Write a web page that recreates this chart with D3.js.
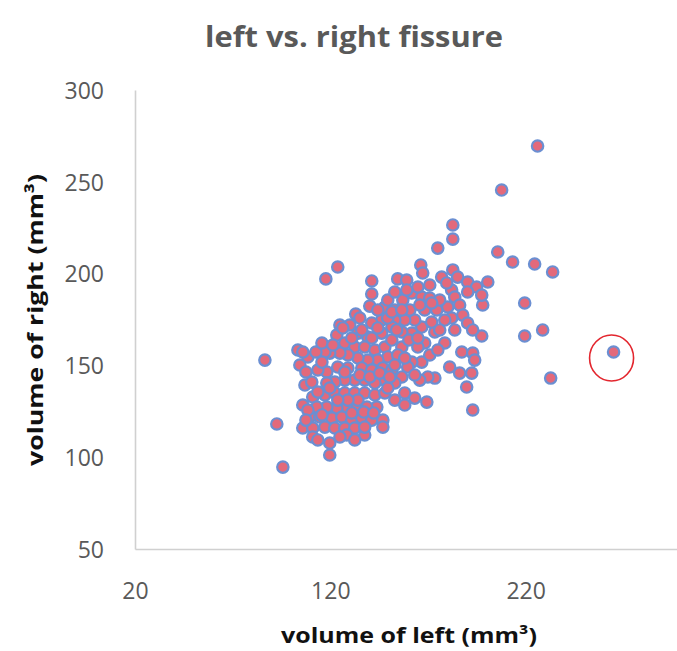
<!DOCTYPE html>
<html>
<head>
<meta charset="utf-8">
<script src="https://cdn.jsdelivr.net/npm/d3@7"></script>
<style>
  html, body { margin: 0; padding: 0; background: #fff; }
  svg { display: block; }
  text { font-family: "Open Sans", "DejaVu Sans", sans-serif; }
</style>
</head>
<body>
<div id="chart"></div>
<script>
// Fissure volumes (mm³): left hemisphere vs. right hemisphere, one pair per subject
const leftVolume = [
  86.5, 92.6, 95.7, 117.7, 123.8, 141.2, 141.2, 133.0, 140.2, 147.9,
  154.5, 159.1, 166.3, 167.3, 175.0, 182.7, 182.7, 205.7, 207.7, 226.1,
  213.3, 224.6, 233.8, 200.6, 198.0, 219.5, 197.5, 219.5, 228.7, 265.0,
  232.8, 177.0, 182.7, 185.2, 190.3, 194.9, 197.5, 190.3, 182.1, 179.6,
  183.7, 180.1, 186.2, 187.8, 182.1, 190.3, 183.7, 192.9, 187.3, 192.9,
  193.9, 181.1, 186.2, 192.4, 189.8, 192.9, 173.5, 169.9, 165.8, 158.1,
  163.2, 169.4, 166.8, 161.7, 159.6, 178.6, 173.5, 168.3, 164.8, 166.8,
  161.7, 156.6, 156.6, 163.2, 158.1, 153.0, 160.7, 157.1, 161.7, 166.8,
  170.9, 168.3, 174.5, 164.8, 159.1, 153.0, 151.5, 146.3, 141.2, 146.3,
  139.2, 134.1, 123.3, 127.4, 132.5, 137.6, 142.8, 147.9, 149.4, 144.3,
  139.2, 134.1, 129.0, 124.9, 119.7, 103.4, 108.5, 118.2, 123.8, 129.0,
  136.1, 141.2, 146.9, 151.5, 156.6, 153.0, 147.9, 142.8, 137.6, 132.5,
  127.4, 122.3, 118.2, 107.0, 111.0, 105.9, 117.2, 122.3, 127.4, 132.5,
  137.6, 142.8, 147.9, 143.8, 138.7, 133.6, 128.4, 123.3, 118.2, 113.1,
  109.5, 114.6, 120.8, 125.9, 131.0, 136.1, 141.2, 146.9, 146.9, 105.9,
  111.0, 111.0, 117.2, 122.3, 127.4, 132.5, 137.6, 128.4, 119.7, 119.7,
  137.6, 117.2, 105.9, 130.0, 135.1, 113.6, 110.5, 115.7, 151.5, 154.5,
  124.9, 149.4, 144.3, 153.0, 170.9, 176.0, 178.6, 170.9, 175.0, 163.2,
  104.4, 107.5, 112.6, 115.7, 121.3, 126.4, 131.0, 136.1, 141.2, 144.3,
  149.4, 154.0, 160.2, 164.8, 171.9, 176.0, 153.0, 158.1, 149.4, 153.0,
  158.1, 134.1, 129.0, 123.8, 115.7, 108.5, 113.6, 119.7, 127.4, 135.1,
  140.2, 145.3, 150.4, 131.0, 137.1, 142.2, 124.9, 132.5, 113.6, 107.5,
  151.5, 156.6, 165.8, 171.9
];
const rightVolume = [
  152.9, 118.1, 94.6, 197.1, 203.6, 196.0, 188.9, 178.0, 182.3, 181.8,
  197.1, 196.5, 204.7, 200.3, 213.9, 226.5, 218.8, 211.8, 245.5, 269.5,
  206.3, 205.2, 200.9, 195.4, 182.9, 184.0, 166.0, 166.0, 169.3, 157.3,
  143.1, 198.1, 202.0, 198.1, 195.4, 192.7, 188.3, 190.0, 191.1, 194.9,
  187.2, 181.8, 182.9, 177.4, 175.8, 173.1, 169.3, 169.3, 157.3, 156.7,
  152.9, 149.1, 145.8, 145.8, 138.2, 125.7, 143.1, 143.7, 142.0, 135.0,
  132.2, 130.0, 151.8, 151.8, 149.1, 162.2, 168.2, 162.2, 160.0, 170.9,
  167.6, 160.0, 168.2, 174.7, 174.7, 174.7, 180.2, 185.6, 189.4, 187.2,
  186.7, 180.2, 180.2, 192.7, 191.1, 180.2, 170.9, 174.7, 173.1, 167.6,
  165.5, 167.6, 166.5, 162.2, 160.0, 160.0, 158.4, 160.0, 154.6, 152.9,
  152.9, 154.0, 155.7, 156.7, 156.7, 158.4, 154.6, 146.4, 149.1, 148.6,
  148.6, 147.5, 148.6, 147.5, 143.7, 140.4, 142.0, 140.4, 142.0, 142.0,
  142.0, 140.9, 140.4, 139.3, 132.8, 128.4, 133.9, 135.0, 135.0, 135.0,
  135.0, 133.9, 135.0, 127.3, 127.3, 127.3, 127.3, 126.8, 127.3, 127.3,
  121.9, 121.9, 121.3, 121.9, 120.2, 121.3, 120.2, 120.2, 116.4, 115.9,
  115.9, 111.0, 116.4, 115.9, 115.9, 115.9, 112.1, 112.1, 107.7, 101.2,
  116.4, 157.3, 157.3, 172.0, 175.8, 147.5, 140.9, 151.8, 163.8, 155.7,
  172.0, 185.6, 180.2, 190.0, 193.8, 185.6, 174.7, 155.7, 158.4, 144.8,
  150.2, 146.4, 157.3, 162.2, 161.1, 170.4, 164.9, 169.3, 164.9, 170.4,
  175.8, 169.3, 163.8, 164.9, 173.6, 169.3, 150.2, 154.0, 137.7, 131.1,
  128.4, 131.1, 131.1, 131.1, 123.0, 125.7, 135.5, 137.7, 146.4, 144.8,
  143.7, 145.8, 143.7, 124.1, 124.6, 124.1, 111.0, 109.4, 109.4, 120.2,
  179.1, 180.2, 182.9, 184.0
];

const xTicks = [20, 120, 220];
const yTicks = [50, 100, 150, 200, 250, 300];

// The subject singled out with a ring
const flaggedLeft = 265.0;
const flaggedRight = 157.3;

const chartTitle = "left vs. right fissure";
const xTitle = "volume of left (mm³)";
const yTitle = "volume of right (mm³)";

const W = 677, H = 651;
const svg = d3.select("#chart").append("svg")
  .attr("width", W).attr("height", H);

const x = d3.scaleLinear().domain([20, 320]).range([135, 721]);
const y = d3.scaleLinear().domain([50, 300]).range([549, 90]);

const axisColor = "#d0d0d0";
const labelColor = "#595959";

// x axis
svg.append("g")
  .attr("transform", `translate(0,${y(50)})`)
  .call(d3.axisBottom(x).tickValues(xTicks).tickSize(0).tickSizeOuter(0).tickPadding(0))
  .call(g => g.select(".domain").attr("stroke", axisColor).attr("stroke-width", 1.6))
  .call(g => g.selectAll("text")
    .attr("y", 50).attr("dy", 0)
    .attr("fill", labelColor)
    .style("font-size", "23px")
    .style("font-family", "'Open Sans', sans-serif"));

// y axis
svg.append("g")
  .attr("transform", `translate(${x(20)},0)`)
  .call(d3.axisLeft(y).tickValues(yTicks).tickSize(0).tickSizeOuter(0).tickPadding(31))
  .call(g => g.select(".domain").attr("stroke", axisColor).attr("stroke-width", 1.6))
  .call(g => g.selectAll("text")
    .attr("dy", "0.36em")
    .attr("fill", labelColor)
    .style("font-size", "23px")
    .style("font-family", "'Open Sans', sans-serif"));

// data points
const points = leftVolume.map((l, i) => ({ l, r: rightVolume[i] }));
svg.append("g")
  .selectAll("circle")
  .data(points)
  .join("circle")
  .attr("cx", d => x(d.l))
  .attr("cy", d => y(d.r))
  .attr("r", 5.7)
  .attr("fill", "#e3697b")
  .attr("stroke", "#6b8fd2")
  .attr("stroke-width", 2.2);

// ring around the flagged subject
svg.append("ellipse")
  .attr("cx", x(flaggedLeft) - 2)
  .attr("cy", y(flaggedRight) + 6)
  .attr("rx", 22)
  .attr("ry", 23)
  .attr("fill", "none")
  .attr("stroke", "#e3262e")
  .attr("stroke-width", 1.6);

// titles
svg.append("text")
  .attr("x", 354).attr("y", 47)
  .attr("text-anchor", "middle")
  .attr("fill", labelColor)
  .attr("font-weight", "bold")
  .attr("textLength", 298)
  .attr("lengthAdjust", "spacingAndGlyphs")
  .style("font-size", "29px")
  .text(chartTitle);

svg.append("text")
  .attr("x", 409).attr("y", 643)
  .attr("text-anchor", "middle")
  .attr("fill", "#111")
  .attr("font-weight", "bold")
  .attr("textLength", 256)
  .attr("lengthAdjust", "spacingAndGlyphs")
  .style("font-size", "21px")
  .text(xTitle);

svg.append("text")
  .attr("transform", "translate(43,320) rotate(-90)")
  .attr("text-anchor", "middle")
  .attr("fill", "#111")
  .attr("font-weight", "bold")
  .attr("textLength", 292)
  .attr("lengthAdjust", "spacingAndGlyphs")
  .style("font-size", "22px")
  .text(yTitle);
</script>
</body>
</html>
